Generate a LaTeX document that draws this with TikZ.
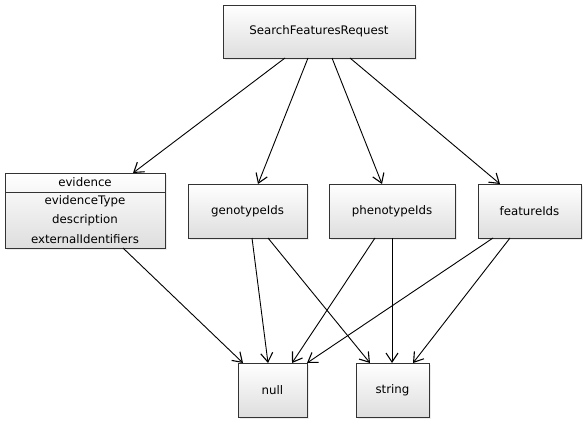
\documentclass[tikz,border=0pt]{standalone}
\usepackage{fontspec}
\setmainfont{DejaVu Sans}
\usetikzlibrary{arrows.meta,shadows}
\begin{document}
\begin{tikzpicture}[x=1pt,y=-1pt,
  lbl/.style={font=\fontsize{11.8}{19.5}\selectfont,inner sep=0pt},
  box/.style={draw=black!80,line width=0.9pt,top color=white,bottom color=black!13,
    drop shadow={opacity=0.15,shadow xshift=2pt,shadow yshift=-2pt},
    inner sep=0pt,lbl},
  link/.style={draw=black,line width=0.9pt,-{Straight Barb[length=9pt,width=12pt,line width=1.1pt]}}]
\useasboundingbox (0,0) rectangle (586,423);
\node[box,minimum width=192pt,minimum height=53pt] (sfr) at (319,31.5) {SearchFeaturesRequest};
\node[box,minimum width=160pt,minimum height=75pt] (ev) at (85,210.5) {};
\draw[black!80,line width=0.9pt] (5,192) -- (165,192);
\node[lbl] (evh) at (85,182.5) {evidence};
\node[lbl,align=center] (evb) at (85,219.5) {evidenceType\\description\\externalIdentifiers};
\node[box,minimum width=119pt,minimum height=54pt] (geno) at (247.5,211) {genotypeIds};
\node[box,minimum width=126pt,minimum height=54pt] (pheno) at (392,211) {phenotypeIds};
\node[box,minimum width=103pt,minimum height=54pt] (feat) at (529.5,211) {featureIds};
\node[box,minimum width=69pt,minimum height=54pt] (null) at (272.5,390) {null};
\node[box,minimum width=73pt,minimum height=54pt] (str) at (392.5,390) {string};
\coordinate (s1) at (285,58); \coordinate (s2) at (308,58);
\coordinate (s3) at (332,58); \coordinate (s4) at (350,58);
\draw[link] (s1) -- (133,173);
\draw[link] (s2) -- (258,184);
\draw[link] (s3) -- (382,184);
\draw[link] (s4) -- (500,184);
\draw[link] (123,248) -- (243,363);
\draw[link] (252,238) -- (268,363);
\draw[link] (268,238) -- (370,363);
\draw[link] (375,238) -- (292,363);
\draw[link] (392,238) -- (392,363);
\draw[link] (493,238) -- (307,363);
\draw[link] (510,238) -- (413,363);
\end{tikzpicture}
\end{document}
